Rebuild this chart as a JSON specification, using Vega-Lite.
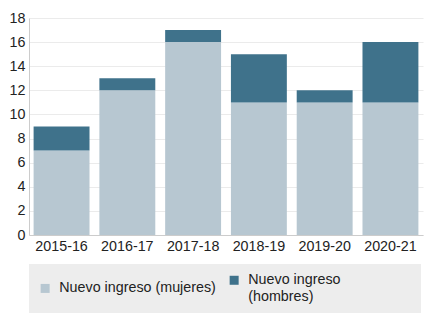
{
  "$schema": "https://vega.github.io/schema/vega-lite/v6.json",
  "width": 394,
  "height": 217,
  "autosize": {"type": "none"},
  "padding": {"left": 29, "top": 18, "right": 7, "bottom": 87},
  "config": {
    "font": "Liberation Sans",
    "view": {"stroke": null},
    "axis": {"labelFont": "Liberation Sans", "labelFontSize": 14.3, "labelColor": "#222222", "ticks": false, "domainColor": "#cccccc", "gridColor": "#ebebeb", "title": null}
  },
  "data": {
    "values": [
      {"curso": "2015-16", "serie": "Nuevo ingreso (mujeres)", "orden": 1, "valor": 7},
      {"curso": "2015-16", "serie": "Nuevo ingreso (hombres)", "orden": 2, "valor": 2},
      {"curso": "2016-17", "serie": "Nuevo ingreso (mujeres)", "orden": 1, "valor": 12},
      {"curso": "2016-17", "serie": "Nuevo ingreso (hombres)", "orden": 2, "valor": 1},
      {"curso": "2017-18", "serie": "Nuevo ingreso (mujeres)", "orden": 1, "valor": 16},
      {"curso": "2017-18", "serie": "Nuevo ingreso (hombres)", "orden": 2, "valor": 1},
      {"curso": "2018-19", "serie": "Nuevo ingreso (mujeres)", "orden": 1, "valor": 11},
      {"curso": "2018-19", "serie": "Nuevo ingreso (hombres)", "orden": 2, "valor": 4},
      {"curso": "2019-20", "serie": "Nuevo ingreso (mujeres)", "orden": 1, "valor": 11},
      {"curso": "2019-20", "serie": "Nuevo ingreso (hombres)", "orden": 2, "valor": 1},
      {"curso": "2020-21", "serie": "Nuevo ingreso (mujeres)", "orden": 1, "valor": 11},
      {"curso": "2020-21", "serie": "Nuevo ingreso (hombres)", "orden": 2, "valor": 5}
    ]
  },
  "mark": {"type": "bar"},
  "encoding": {
    "x": {
      "field": "curso", "type": "nominal", "sort": null,
      "scale": {"paddingInner": 0.15, "paddingOuter": 0.07},
      "axis": {"labelAngle": 0, "labelPadding": 4, "domain": true}
    },
    "y": {
      "field": "valor", "type": "quantitative", "stack": "zero",
      "scale": {"domain": [0, 18]},
      "axis": {"values": [0, 2, 4, 6, 8, 10, 12, 14, 16, 18], "labelPadding": 4, "domain": true}
    },
    "order": {"field": "orden"},
    "color": {
      "field": "serie", "type": "nominal",
      "scale": {"domain": ["Nuevo ingreso (mujeres)", "Nuevo ingreso (hombres)"], "range": ["#b7c7d1", "#3f728b"]},
      "legend": {
        "title": null,
        "orient": "bottom",
        "direction": "horizontal",
        "columns": 2,
        "offset": 10,
        "padding": 9,
        "fillColor": "#ededed",
        "symbolType": "square",
        "symbolSize": 81,
        "symbolStrokeWidth": 0,
        "labelFont": "Liberation Sans",
        "labelFontSize": 14.3,
        "labelColor": "#222222",
        "labelLimit": 400,
        "labelOffset": 7,
        "columnPadding": 11,
        "labelExpr": "datum.label == 'Nuevo ingreso (hombres)' ? ['Nuevo ingreso\u00a0\u00a0\u00a0\u00a0\u00a0\u00a0\u00a0\u00a0\u00a0\u00a0\u00a0\u00a0\u00a0\u00a0\u00a0\u00a0\u00a0\u00a0\u200b', '(hombres)'] : datum.label"
      }
    }
  }
}
